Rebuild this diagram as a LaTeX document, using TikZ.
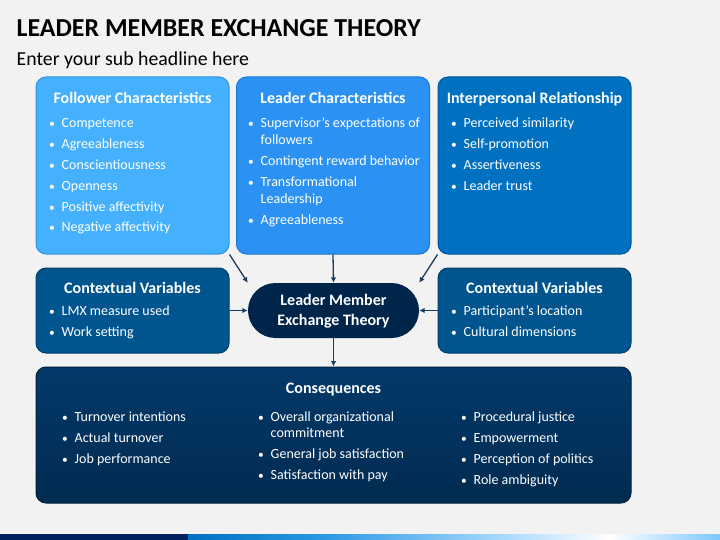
\documentclass[tikz,border=0pt]{standalone}
\usepackage{fontspec}
\setmainfont{Carlito}
\usetikzlibrary{arrows.meta}
\definecolor{bg}{HTML}{F2F2F2}
\definecolor{cfol}{HTML}{45B0FD}
\definecolor{cfolb}{HTML}{2E96E2}
\definecolor{clea}{HTML}{2B92F4}
\definecolor{cleab}{HTML}{1A77CF}
\definecolor{cint}{HTML}{0070C0}
\definecolor{cintb}{HTML}{00589A}
\definecolor{cctx}{HTML}{00558F}
\definecolor{cctxb}{HTML}{003F6C}
\definecolor{clmx}{HTML}{00254A}
\definecolor{cconT}{HTML}{03396A}
\definecolor{cconB}{HTML}{012B50}
\definecolor{cconb}{HTML}{01203C}
\definecolor{carr}{HTML}{1B3B5C}
\definecolor{navy}{HTML}{002060}
\newcounter{li}
\newcommand\bl[3]{\stepcounter{li}%
  \node[bul] (b\arabic{li}) at (#1,#2) {\textbullet};%
  \node[itm] (i\arabic{li}) at (#1+12.5,#2) {#3};}
\newcommand\cl[3]{\stepcounter{li}%
  \node[itm] (c\arabic{li}) at (#1+12.5,#2) {#3};}
\tikzset{
  box/.style={draw, line width=1pt, rounded corners=10pt, minimum width=193pt, inner sep=0pt},
  ttl/.style={anchor=base, inner sep=0pt, text=white, font=\fontsize{16}{19}\selectfont\bfseries},
  bul/.style={anchor=base west, inner sep=0pt, text=white, font=\fontsize{11.5}{13}\selectfont},
  itm/.style={anchor=base west, inner sep=0pt, text=white, font=\fontsize{14}{16}\selectfont},
  arr/.style={draw=carr, line width=1.3pt, -{Latex[length=5.5pt,width=5.5pt]}},
}
\begin{document}
\begin{tikzpicture}[x=1pt,y=-1pt]
\fill[bg] (0,0) rectangle (720,540);
\useasboundingbox (0,0) rectangle (720,540);
% bottom bar
\fill[navy] (0,534) rectangle (188,540);
\shade[left color=cint, right color=cfol!60!cint] (188,534) rectangle (320,540);
\shade[left color=cfol!60!cint, right color=cfol!40!white] (320,534) rectangle (520,540);
\shade[left color=cfol!40!white, right color=white] (520,534) rectangle (610,540);
\shade[left color=white, right color=cfol!70!white] (610,534) rectangle (720,540);
% titles
\node[anchor=base west, inner sep=0pt, font=\fontsize{25.9}{31}\selectfont\bfseries] (title) at (16.5,37) {LEADER MEMBER EXCHANGE THEORY};
\node[anchor=base west, inner sep=0pt, font=\fontsize{19.8}{23}\selectfont] (sub) at (16.5,66) {Enter your sub headline here};
% boxes
\node[box, fill=cfol, draw=cfolb, minimum height=177pt] (fol) at (132.5,165.5) {};
\node[box, fill=clea, draw=cleab, minimum height=177pt] (lea) at (333,165.5) {};
\node[box, fill=cint, draw=cintb, minimum height=177pt] (int) at (534.5,165.5) {};
\node[box, fill=cctx, draw=cctxb, minimum height=85pt] (ctl) at (132.5,310.5) {};
\node[box, fill=cctx, draw=cctxb, minimum height=85pt] (ctr) at (534.5,310.5) {};
\node[draw=none, fill=clmx, rounded corners=27.5pt, minimum width=171pt, minimum height=55pt, inner sep=0pt] (lmx) at (333.5,310.5) {};
\node[box, top color=cconT, bottom color=cconB, draw=cconb, minimum width=595pt, minimum height=136pt] (con) at (333.5,435) {};
% arrows
\draw[arr] (fol.south east) -- (lmx.north west);
\draw[arr] (lea.south) -- (lmx.north);
\draw[arr] (int.south west) -- (lmx.north east);
\draw[arr] (ctl.east) -- (lmx.west);
\draw[arr] (ctr.west) -- (lmx.east);
\draw[arr] (lmx.south) -- (con.north);
% center text
\node[anchor=base, inner sep=0pt, text=white, font=\fontsize{16}{19}\selectfont\bfseries] (lmx1) at (333.5,305.5) {Leader Member};
\node[anchor=base, inner sep=0pt, text=white, font=\fontsize{16}{19}\selectfont\bfseries] (lmx2) at (333.5,325) {Exchange Theory};
% follower
\node[ttl] (folt) at (132.5,103.8) {Follower Characteristics};
\bl{49}{128}{Competence}
\bl{49}{148.8}{Agreeableness}
\bl{49}{169.6}{Conscientiousness}
\bl{49}{190.4}{Openness}
\bl{49}{211.2}{Positive affectivity}
\bl{49}{232}{Negative affectivity}
% leader
\node[ttl] (leat) at (333,103.8) {Leader Characteristics};
\bl{248}{128}{Supervisor’s expectations of}
\cl{248}{144.7}{followers}
\bl{248}{165.8}{Contingent reward behavior}
\bl{248}{186.8}{Transformational}
\cl{248}{203.5}{Leadership}
\bl{248}{224.5}{Agreeableness}
% interpersonal
\node[ttl] (intt) at (534.5,103.8) {Interpersonal Relationship};
\bl{451}{128}{Perceived similarity}
\bl{451}{148.8}{Self-promotion}
\bl{451}{169.6}{Assertiveness}
\bl{451}{190.4}{Leader trust}
% contextual
\node[ttl] (ctlt) at (132.5,293) {Contextual Variables};
\bl{49}{315}{LMX measure used}
\bl{49}{336}{Work setting}
\node[ttl] (ctrt) at (534.5,293) {Contextual Variables};
\bl{451}{315}{Participant’s location}
\bl{451}{336}{Cultural dimensions}
% consequences
\node[ttl] (cont) at (333.5,393.5) {Consequences};
\bl{62}{421}{Turnover intentions}
\bl{62}{442}{Actual turnover}
\bl{62}{463}{Job performance}
\bl{258}{421}{Overall organizational}
\cl{258}{437.7}{commitment}
\bl{258}{458.8}{General job satisfaction}
\bl{258}{479.8}{Satisfaction with pay}
\bl{461}{421}{Procedural justice}
\bl{461}{442}{Empowerment}
\bl{461}{463}{Perception of politics}
\bl{461}{484}{Role ambiguity}
\end{tikzpicture}
\end{document}
